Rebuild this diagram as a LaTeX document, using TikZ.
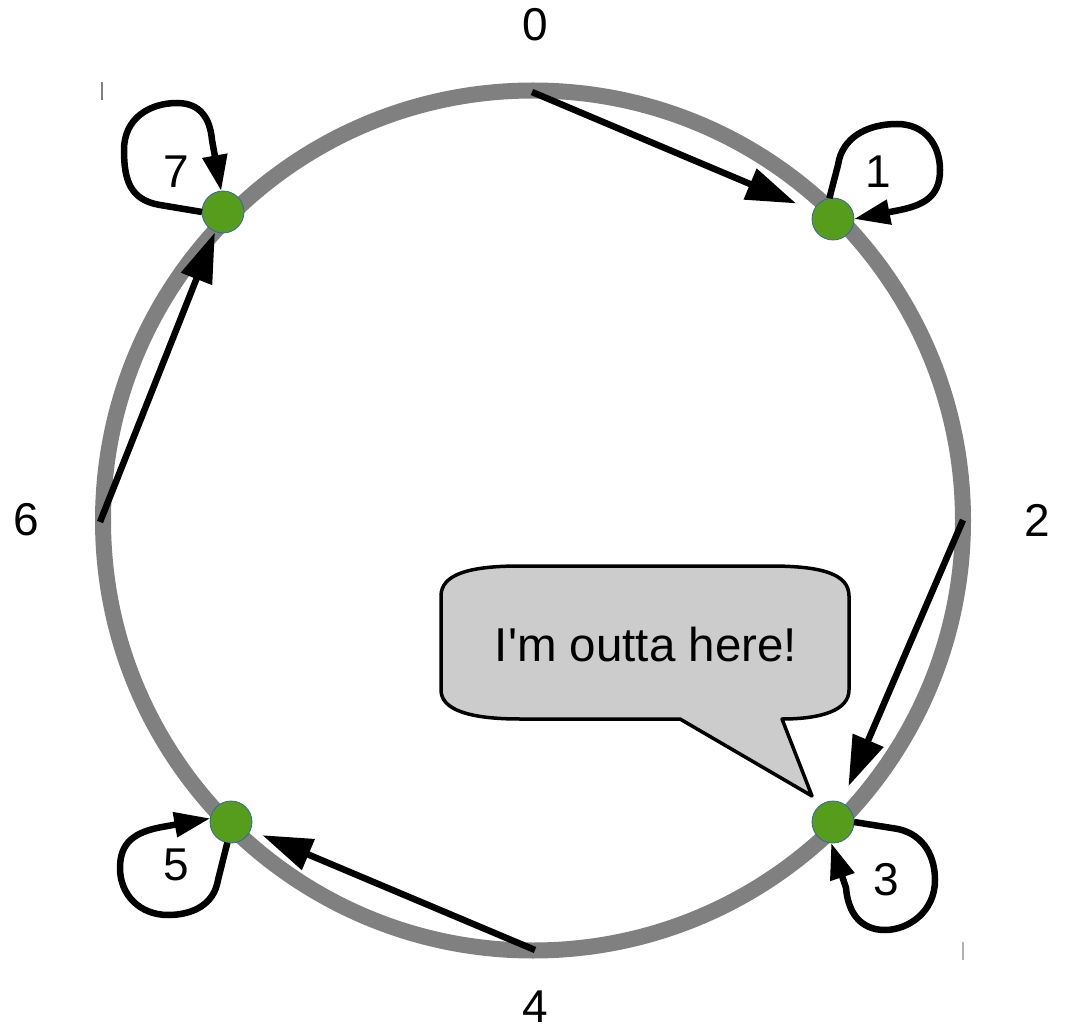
\documentclass[tikz,border=0pt]{standalone}
\usepackage{fontspec}
\setmainfont{Liberation Sans}
\usetikzlibrary{arrows.meta}
\definecolor{ringgray}{RGB}{128,128,128}
\definecolor{dotgreen}{RGB}{87,157,28}
\definecolor{dotedge}{RGB}{52,101,164}
\definecolor{bubblegray}{RGB}{204,204,204}
\tikzset{
  ring/.style={draw=ringgray, line width=16pt},
  peer/.style={circle, fill=dotgreen, draw=dotedge, line width=0.8pt, minimum size=42pt, inner sep=0pt, outer sep=0pt},
  lbl/.style={font=\fontsize{46}{55}\selectfont, inner sep=0pt},
  hop/.style={line width=6.5pt, -{Triangle[length=50pt,width=32pt]}},
  selfloop/.style={line width=6.5pt, line join=round, -{Triangle[length=36pt,width=24pt]}},
  bubble/.style={fill=bubblegray, draw=black, line width=3.5pt, line join=round},
  tick/.style={draw=ringgray, line width=1.5pt}
}
\begin{document}
\begin{tikzpicture}[x=1pt,y=-1pt]
\useasboundingbox (0,0) rectangle (1066,1032);
% ring
\draw[ring] (533,520.5) circle (430);
% stray ticks
\draw[tick] (102,82) -- (102,100);
\draw[tick, draw=ringgray!60] (963,942) -- (963,960);
% positions on the ring
\coordinate (p0) at (532,92);
\coordinate (p2) at (963,520);
\coordinate (p4) at (535,950);
\coordinate (p6) at (100,522);
% peers
\node[peer] (n1) at (833,219) {};
\node[peer] (n3) at (833,822) {};
\node[peer] (n5) at (231,822) {};
\node[peer] (n7) at (223,212) {};
% labels
\node[lbl] (l0) at (535,25) {0};
\node[lbl] (l1) at (878,172) {1};
\node[lbl] (l2) at (1037,520) {2};
\node[lbl] (l3) at (886,880) {3};
\node[lbl] (l4) at (535,1007) {4};
\node[lbl] (l5) at (176,865) {5};
\node[lbl] (l6) at (26,520) {6};
\node[lbl] (l7) at (176,172) {7};
% hops
\draw[hop, shorten >=19pt] (p0) -- (n1);
\draw[hop, shorten >=18pt] (p2) -- (n3);
\draw[hop, shorten >=13pt] (p4) -- (n5);
\draw[hop, shorten >=1pt] (p6) -- (n7);
% self loops
\draw[selfloop] (n7.west) -- (160,205) .. controls (130,200) and (124,180) .. (124,150)
  .. controls (124,118) and (150,103) .. (177,103) .. controls (200,103) and (210,118) .. (212,140) -- (n7.95);
\draw[selfloop] (n1.100) -- (838,165) .. controls (842,137) and (868,124) .. (897,124)
  .. controls (925,124) and (940,145) .. (940,170) .. controls (940,198) and (922,206) .. (895,211) -- (n1.east);
\draw[selfloop] (n3.east) -- (898,829) .. controls (925,835) and (935,858) .. (935,880)
  .. controls (935,912) and (908,930) .. (885,930) .. controls (860,930) and (848,912) .. (846,888) -- (n3.-95);
\draw[selfloop] (n5.-100) -- (218,880) .. controls (214,905) and (192,915) .. (168,915)
  .. controls (140,915) and (120,895) .. (120,868) .. controls (120,842) and (135,832) .. (162,827) -- (n5.170);
% speech bubble
\draw[bubble] (441,690) -- (441,596) .. controls (441,574) and (470,566) .. (520,566)
  -- (770,566) .. controls (822,566) and (849,574) .. (849,596)
  -- (849,690) .. controls (849,710) and (822,719) .. (782,719)
  -- (812,796) -- (680,719) -- (520,719) .. controls (470,719) and (441,710) .. (441,690) -- cycle;
\node[lbl, font=\fontsize{47.5}{57}\selectfont] (msg) at (646,645) {I\textquotesingle m outta here!};
\end{tikzpicture}
\end{document}
